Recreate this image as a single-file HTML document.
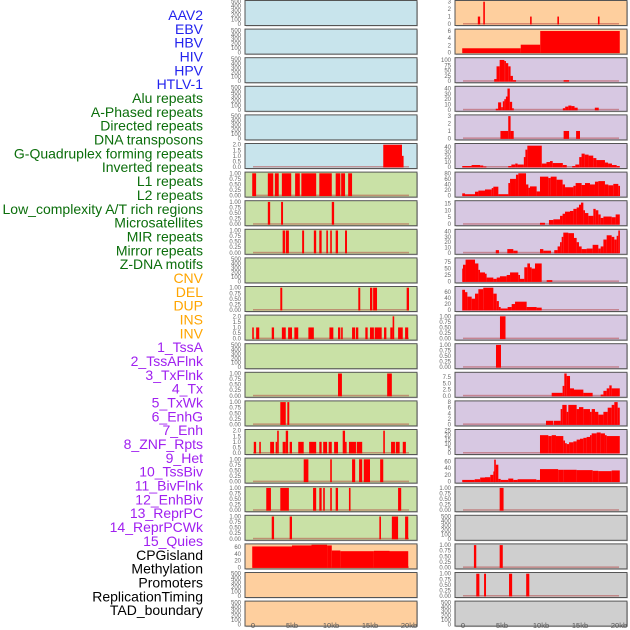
<!DOCTYPE html>
<html><head><meta charset="utf-8"><style>
html,body{margin:0;padding:0;background:#fff;}
svg{display:block;font-family:"Liberation Sans",sans-serif;}
</style></head><body>
<svg id="chart" width="630" height="630" viewBox="0 0 630 630" xmlns="http://www.w3.org/2000/svg">
<g id="labels"></g>
<g id="panels"></g>
<g id="xaxis"></g>
</svg>
<script>
const trackLabels = ["AAV2","EBV","HBV","HIV","HPV","HTLV-1","Alu repeats","A-Phased repeats","Directed repeats","DNA transposons","G-Quadruplex forming repeats","Inverted repeats","L1 repeats","L2 repeats","Low_complexity A/T rich regions","Microsatellites","MIR repeats","Mirror repeats","Z-DNA motifs","CNV","DEL","DUP","INS","INV","1_TssA","2_TssAFlnk","3_TxFlnk","4_Tx","5_TxWk","6_EnhG","7_Enh","8_ZNF_Rpts","9_Het","10_TssBiv","11_BivFlnk","12_EnhBiv","13_ReprPC","14_ReprPCWk","15_Quies","CPGisland","Methylation","Promoters","ReplicationTiming","TAD_boundary"];
const labelGroups = ["v","v","v","v","v","v","r","r","r","r","r","r","r","r","r","r","r","r","r","s","s","s","s","s","c","c","c","c","c","c","c","c","c","c","c","c","c","c","c","o","o","o","o","o"];
const xTickValues = [0,5,10,15,20];
const xTickLabels = ["0","5kb","10kb","15kb","20kb"];

const ticksEmpty = [0,100,200,300,400,500];
const ticksBinary = [0,0.25,0.5,0.75,1];
const ticksTwo = [0,0.5,1,1.5,2];

// left column tracks: [start kb, end kb, value]
const leftGQuad = [[16.7,19.1,2],[19.1,19.25,1]];
const leftRow6 = [[-0.1,0.4,1],[1.9,2.6,1],[2.8,3.3,1],[3.7,4.9,1],[5.4,6.0,1],[6.2,8.1,1],[8.5,10.1,1],[10.6,11.2,1],[11.3,11.8,1],[12.2,12.7,1]];
const leftRow7 = [[1.9,2.2,1],[3.6,3.85,1],[10.1,10.4,1]];
const leftRow8 = [[3.8,4.1,1],[4.2,4.6,1],[6.3,6.55,1],[7.8,8.1,1],[8.5,8.8,1],[9.4,9.6,1],[9.9,10.1,1],[10.6,10.9,1],[11.8,12.05,1]];
const leftRow10 = [[3.5,3.75,1],[13.5,13.75,1],[15.0,15.3,1],[15.4,15.9,1],[19.7,20.0,1]];
const leftRow11 = [[-0.1,0.1,1],[0.4,0.8,1],[2.4,2.7,1],[3.7,4.2,1],[4.5,5.0,1],[5.3,5.8,1],[7.1,7.8,1],[9.8,10.3,1],[10.9,11.2,1],[11.3,11.5,1],[12.7,13.1,1],[13.2,13.5,1],[14.4,14.7,1],[15.0,15.5,1],[15.6,16.5,1],[16.8,17.1,1],[17.6,17.9,1],[17.9,18.1,2],[18.6,19.2,1],[19.5,19.9,1]];
const leftRow13 = [[10.9,11.4,1],[17.2,17.8,1]];
const leftRow14 = [[3.5,4.2,1],[4.4,4.65,1]];
const leftRow15 = [[0.1,0.4,1],[0.8,1.0,1],[2.2,2.7,1],[2.9,3.1,1],[3.1,3.3,2],[3.8,4.2,1],[4.2,4.5,2],[4.7,5.0,1],[5.8,6.5,1],[7.2,8.1,1],[8.5,8.8,1],[9.0,9.5,1],[9.7,10.1,1],[10.4,10.9,1],[11.5,11.8,2],[11.8,12.0,1],[12.3,13.2,1],[13.3,14.0,1],[16.7,16.9,2],[17.7,18.2,1],[18.3,18.8,1],[19.2,19.6,1]];
const leftRow16 = [[6.5,7.1,1],[9.9,10.1,1],[12.7,13.1,1],[13.6,14.0,1],[14.2,15.0,1],[16.3,16.7,1]];
const leftRow17 = [[1.7,2.3,1],[3.5,4.6,1],[7.7,8.1,1],[8.5,8.8,1],[9.0,9.2,1],[9.9,10.1,1],[10.6,10.9,1],[12.3,12.5,1],[18.6,19.0,1]];
const leftRow18 = [[2.4,2.7,1],[4.7,5.0,1],[16.2,16.4,1],[17.8,18.6,1],[19.5,19.9,1]];
const leftCpg = [[-0.1,5.0,62],[5.0,7.5,65],[7.5,9.5,67],[9.5,10.1,65],[10.1,11.2,50],[11.2,15.5,48],[15.5,17.5,49],[17.5,19.9,48]];

// right column tracks
const rightRow0 = [[1.9,2.2,1],[2.6,2.8,3],[8.6,8.8,1],[12.1,12.3,1],[17.3,17.5,1]];
const rightRow1 = [[-0.1,7.4,1.2],[7.4,9.9,2.2],[9.9,20.1,6]];
const rightRow2 = [[4.0,4.3,10],[4.3,4.7,70],[4.7,5.3,100],[5.3,5.5,95],[5.5,5.8,85],[5.8,6.1,70],[6.1,6.4,25],[6.4,6.8,5],[12.9,13.6,5]];
const rightRow3 = [[4.2,4.5,2],[4.5,4.9,14],[4.9,5.1,5],[5.1,5.3,16],[5.3,5.5,20],[5.5,5.7,25],[5.7,6.0,40],[6.0,6.3,15],[6.3,6.45,3],[12.8,13.1,3],[13.1,13.5,6],[13.5,13.9,8],[13.9,14.3,7],[14.3,14.7,4],[16.9,17.4,4]];
const rightRow4 = [[4.8,5.8,1],[5.8,6.1,3],[6.1,6.5,1],[12.9,13.6,1],[14.5,15.0,1]];
const rightRow5 = [[-0.1,1.1,2],[1.1,2.2,4],[2.2,2.6,3],[2.6,3.0,1],[5.8,6.2,2],[6.2,6.7,5],[6.7,7.0,7],[7.0,7.8,5],[7.8,8.0,20],[8.0,8.25,35],[8.25,10.1,43],[10.1,10.7,7],[10.7,11.15,10],[11.15,11.5,12],[11.5,12.8,8],[12.8,13.3,4],[14.0,14.4,2],[14.4,14.9,5],[14.9,15.2,20],[15.2,15.6,27],[15.6,16.1,25],[16.1,16.7,23],[16.7,17.1,18],[17.1,18.2,14],[18.2,18.6,9],[18.6,19.1,7],[19.1,19.7,4],[19.7,20.1,2]];
const rightRow6 = [[-0.1,0.26,8],[0.26,1.54,5],[1.54,1.97,14],[1.97,2.82,18],[2.82,3.68,22],[3.68,3.89,27],[3.89,4.53,32],[4.53,5.81,5],[5.81,6.03,45],[6.03,6.79,60],[6.79,7.09,75],[7.09,8.08,80],[8.08,8.38,40],[8.38,8.59,28],[8.59,9.44,33],[9.44,9.87,15],[9.87,10.94,68],[10.94,11.24,63],[11.24,12.0,68],[12.0,12.77,57],[12.77,13.08,40],[13.08,14.15,30],[14.15,14.44,35],[14.44,15.21,45],[15.21,15.64,38],[15.64,16.28,45],[16.28,16.92,40],[16.92,17.35,50],[17.35,18.2,52],[18.2,18.63,40],[18.63,19.27,37],[19.27,19.91,42],[19.91,20.13,35]];
const rightRow7 = [[9.87,10.51,1],[11.02,11.58,3],[11.58,12.44,3.5],[12.44,12.77,6],[12.77,13.08,7.5],[13.08,13.72,9],[13.72,14.15,9.5],[14.15,14.57,11],[14.57,14.87,12],[14.87,15.13,14],[15.13,15.43,15.5],[15.43,15.64,10],[15.64,16.07,8],[16.07,16.41,6],[16.41,16.71,6],[16.71,17.01,11],[17.01,17.35,10],[17.35,17.65,7],[17.65,18.0,4.5],[18.0,19.06,5.5],[19.06,19.57,5],[19.57,20.1,7]];
const rightRow8 = [[4.2,4.61,5],[5.68,6.45,7],[6.45,7.0,4],[9.87,10.3,7],[10.3,11.28,4],[11.7,12.13,5],[12.13,12.44,12],[12.44,12.65,20],[12.65,12.86,30],[12.86,13.5,38],[13.5,14.23,37],[14.23,14.57,28],[14.57,14.87,20],[14.87,15.21,12],[15.21,15.85,7],[15.85,16.62,8],[16.62,17.35,15],[17.35,17.65,8],[17.65,18.0,12],[18.0,18.42,25],[18.42,19.06,33],[19.06,19.4,30],[19.4,19.7,25],[19.7,19.91,32],[19.91,20.1,42]];
const rightRow9 = [[-0.1,0.0,50],[0.0,0.33,65],[0.33,1.54,85],[1.54,1.97,70],[1.97,2.18,45],[2.18,2.82,35],[2.82,3.03,30],[3.03,3.89,15],[3.89,4.32,10],[4.32,4.74,15],[4.74,5.6,20],[5.6,6.03,25],[6.03,7.09,35],[7.09,7.31,25],[7.31,7.86,10],[7.86,8.25,55],[8.25,8.59,70],[8.59,8.8,55],[8.8,9.23,50],[9.23,10.09,70],[10.73,11.45,5]];
const rightRow10 = [[-0.1,0.26,68],[0.26,0.56,60],[0.56,1.11,45],[1.11,1.54,38],[1.54,1.97,55],[1.97,2.6,70],[2.6,3.89,75],[3.89,4.32,55],[4.32,4.6,30],[4.6,4.83,10],[4.83,5.72,5],[5.72,6.24,10],[6.24,6.67,20],[6.67,8.16,28],[8.16,9.44,10],[9.44,10.09,8]];
const rightRow11 = [[4.74,5.45,1]];
const rightRow12 = [[4.23,4.87,1]];
const rightRow13 = [[11.37,12.77,1.2],[12.77,12.99,4],[12.99,13.29,9],[13.29,13.72,8],[13.72,14.23,3],[14.23,15.43,2.5],[15.43,16.62,1.2],[17.65,18.0,0.5],[18.0,18.42,2],[18.42,18.76,3],[18.76,19.06,4.2],[19.06,20.1,3]];
const rightRow14 = [[10.64,11.58,1.3],[11.66,12.52,1.3],[12.52,12.73,5.5],[12.73,13.29,7],[13.29,13.5,4.5],[13.5,14.57,7],[14.57,14.87,5.5],[14.87,15.43,6.2],[15.43,16.28,5.5],[16.28,16.5,4.5],[16.5,16.92,5.5],[16.92,17.35,4.5],[17.35,18.0,3.5],[18.0,18.55,4.5],[18.55,19.06,6],[19.06,19.4,7],[19.4,19.83,8],[19.83,20.1,6]];
const rightRow15 = [[9.87,10.94,20],[10.94,11.37,19],[11.37,11.92,20],[11.92,12.86,19],[12.86,13.08,14],[13.08,13.3,11],[13.3,13.6,10],[13.6,14.15,12],[14.15,14.57,13],[14.57,15.0,15],[15.0,15.43,16],[15.43,15.85,17],[15.85,16.28,18],[16.28,16.5,20],[16.5,17.14,22],[17.14,17.65,23],[17.65,18.2,22],[18.2,18.42,20],[18.42,20.1,19]];
const rightRow16 = [[-0.1,1.5,5],[1.5,2.2,7],[2.2,2.82,12],[2.82,3.5,13],[3.5,3.89,20],[3.89,4.0,30],[4.0,4.2,65],[4.2,4.53,50],[4.53,4.83,8],[4.83,5.8,5],[5.8,6.45,9],[6.45,7.0,5],[7.0,9.4,7],[9.4,9.87,5],[9.87,12.2,37],[12.2,12.86,35],[12.86,14.57,35],[14.57,16.62,34],[16.62,17.35,32],[17.35,19.06,31],[19.06,20.1,33]];
const rightRow17 = [[4.7,5.2,1]];
const rightRow19 = [[1.4,1.7,1],[4.7,5.1,1]];
const rightRow20 = [[1.7,2.1,1],[2.7,2.95,1],[5.9,6.3,1],[8.1,8.5,1]];

const BG = {b:"#c8e4ec",g:"#c9e1a6",o:"#fecf9e",p:"#d7c8e2",y:"#cfcfcf"};
const leftPanels = [
 {bg:"b",ticks:ticksEmpty,max:500,data:null},
 {bg:"b",ticks:ticksEmpty,max:500,data:null},
 {bg:"b",ticks:ticksEmpty,max:500,data:null},
 {bg:"b",ticks:ticksEmpty,max:500,data:null},
 {bg:"b",ticks:ticksEmpty,max:500,data:null},
 {bg:"b",ticks:ticksTwo,max:2,data:leftGQuad,fmt:1},
 {bg:"g",ticks:ticksBinary,max:1,data:leftRow6,fmt:2},
 {bg:"g",ticks:ticksBinary,max:1,data:leftRow7,fmt:2},
 {bg:"g",ticks:ticksBinary,max:1,data:leftRow8,fmt:2},
 {bg:"g",ticks:ticksEmpty,max:500,data:null},
 {bg:"g",ticks:ticksBinary,max:1,data:leftRow10,fmt:2},
 {bg:"g",ticks:ticksTwo,max:2,data:leftRow11,fmt:1},
 {bg:"g",ticks:ticksEmpty,max:500,data:null},
 {bg:"g",ticks:ticksBinary,max:1,data:leftRow13,fmt:2},
 {bg:"g",ticks:ticksBinary,max:1,data:leftRow14,fmt:2},
 {bg:"g",ticks:ticksTwo,max:2,data:leftRow15,fmt:1},
 {bg:"g",ticks:ticksBinary,max:1,data:leftRow16,fmt:2},
 {bg:"g",ticks:ticksBinary,max:1,data:leftRow17,fmt:2},
 {bg:"g",ticks:ticksBinary,max:1,data:leftRow18,fmt:2},
 {bg:"o",ticks:[0,20,40,60],max:66,data:leftCpg},
 {bg:"o",ticks:ticksEmpty,max:500,data:null},
 {bg:"o",ticks:ticksEmpty,max:500,data:null}
];
const rightPanels = [
 {bg:"o",ticks:[0,1,2,3],max:3,data:rightRow0},
 {bg:"o",ticks:[0,2,4,6],max:6.2,data:rightRow1},
 {bg:"p",ticks:[0,25,50,75,100],max:105,data:rightRow2},
 {bg:"p",ticks:[0,10,20,30,40],max:42,data:rightRow3},
 {bg:"p",ticks:[0,1,2,3],max:3,data:rightRow4},
 {bg:"p",ticks:[0,10,20,30,40],max:45,data:rightRow5},
 {bg:"p",ticks:[0,20,40,60,80],max:80,data:rightRow6},
 {bg:"p",ticks:[0,5,10,15],max:16,data:rightRow7},
 {bg:"p",ticks:[0,10,20,30,40],max:42,data:rightRow8},
 {bg:"p",ticks:[0,25,50,75],max:87,data:rightRow9},
 {bg:"p",ticks:[0,20,40,60],max:75,data:rightRow10},
 {bg:"p",ticks:ticksBinary,max:1,data:rightRow11,fmt:2},
 {bg:"p",ticks:ticksBinary,max:1,data:rightRow12,fmt:2},
 {bg:"p",ticks:[0,2.5,5,7.5],max:9,data:rightRow13,fmt:1},
 {bg:"p",ticks:[0,2,4,6,8],max:8,data:rightRow14},
 {bg:"p",ticks:[0,5,10,15,20,25],max:25,data:rightRow15},
 {bg:"p",ticks:[0,20,40,60],max:66,data:rightRow16},
 {bg:"y",ticks:ticksBinary,max:1,data:rightRow17,fmt:2},
 {bg:"y",ticks:ticksEmpty,max:500,data:null},
 {bg:"y",ticks:ticksBinary,max:1,data:rightRow19,fmt:2},
 {bg:"y",ticks:ticksBinary,max:1,data:rightRow20,fmt:2},
 {bg:"y",ticks:ticksEmpty,max:500,data:null}
];

const NS = "http://www.w3.org/2000/svg";
function mk(tag, attrs, parent){const e=document.createElementNS(NS,tag);for(const k in attrs)e.setAttribute(k,attrs[k]);parent.appendChild(e);return e;}
const GROUP_COLOR = {v:"#2222ee",r:"#0b6e0b",s:"#ffa500",c:"#a020f0",o:"#000000"};

const labelsG = document.getElementById("labels");
trackLabels.forEach((t,i)=>{
  const e = mk("text",{x:203,y:15+i*13.84+5,"text-anchor":"end","font-size":"14",fill:GROUP_COLOR[labelGroups[i]]},labelsG);
  e.textContent = t;
  
  
});

const panelsG = document.getElementById("panels");
const PH = 25, STEP = 28.6;
function drawColumn(panels, frameX, x0, side){
  const xs = kb => x0 + kb*7.8;
  panels.forEach((p,r)=>{
    const top = 0.5 + r*STEP;
    const y0 = top + PH - 1.5, y1 = top + 1.2;
    const ys = v => y0 - (v/p.max)*(y0-y1);
    const g = mk("g",{},panelsG);
    
    
    mk("rect",{x:frameX+1,y:top+1,width:172,height:PH,fill:"#999","opacity":"0.5"},g);
    const fr = mk("rect",{x:frameX,y:top,width:172,height:PH,fill:BG[p.bg],stroke:"#555","stroke-width":"1"},g);
    
    
    p.ticks.forEach(v=>{
      const t = mk("text",{x:frameX-4,y:ys(v)+2,"text-anchor":"end","font-size":"6",fill:"#666"},g);
      t.textContent = p.fmt ? v.toFixed(p.fmt) : String(v);
      
      
    });
    if(p.data){
      const bl = mk("rect",{x:xs(0),y:y0-1,width:xs(20)-xs(0),height:1.5,fill:"#b03030",opacity:"0.45"},g);
      
      
      p.data.forEach(d=>{
        const xa = xs(d[0]), w = Math.max(1.6, xs(d[1])-xa);
        const yt = ys(d[2]);
        const b = mk("rect",{x:xa,y:yt,width:w,height:y0+0.5-yt,fill:"#ff0000"},g);
        
        
      });
    }
  });
  const ax = document.getElementById("xaxis");
  xTickValues.forEach((v,i)=>{
    const t = mk("text",{x:xs(v),y:628,"text-anchor":"middle","font-size":"7.5",fill:"#555"},ax);
    t.textContent = xTickLabels[i];
    
    
  });
}
drawColumn(leftPanels, 245, 253, "left");
drawColumn(rightPanels, 455, 463, "right");
</script>
</body></html>
